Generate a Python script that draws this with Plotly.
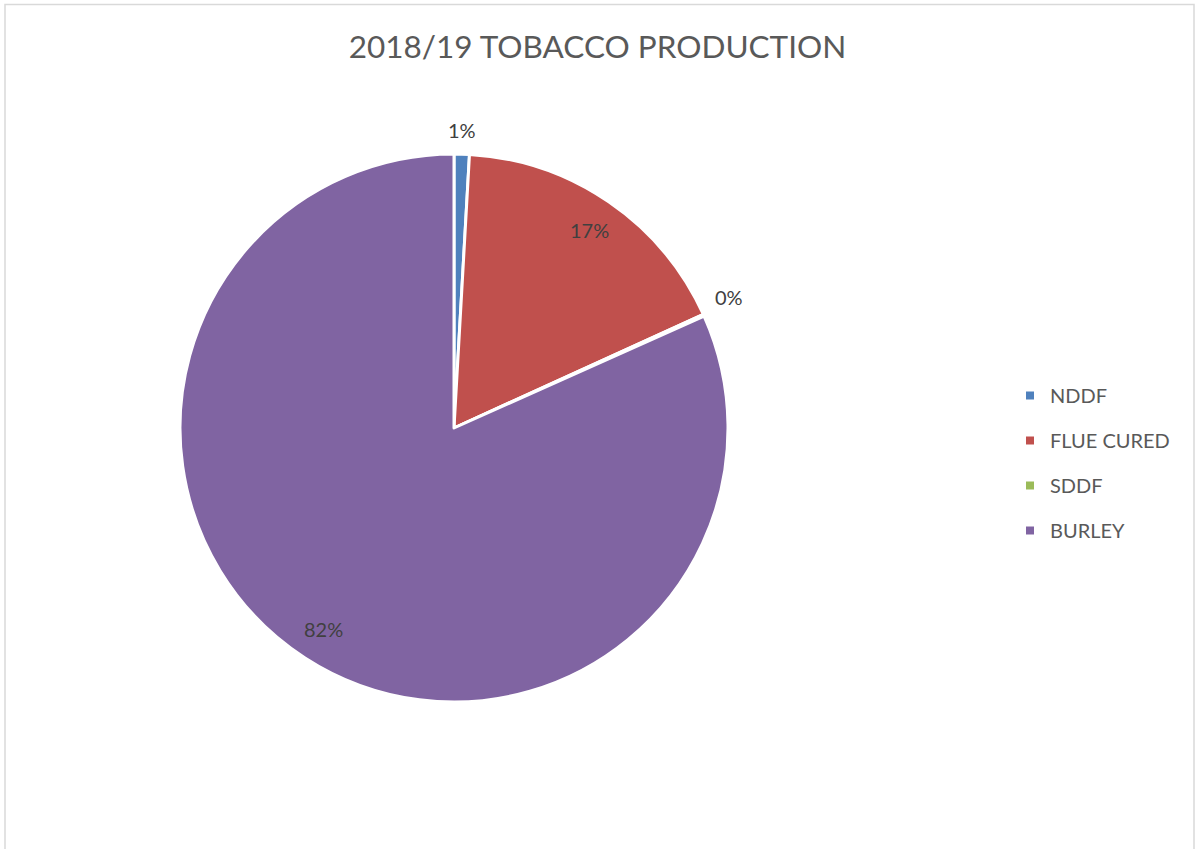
import math
import plotly.graph_objects as go

labels = ["NDDF", "FLUE CURED", "SDDF", "BURLEY"]
values = [0.9, 17.3, 0.1, 81.7]
colors = ["#4F81BD", "#C0504D", "#9BBB59", "#8064A2"]
label_inside = [False, True, False, True]

W, H = 1195, 849
cx, cy, R = 454, 428, 274

FONT = "Lato, 'Open Sans', sans-serif"
GREY = "#595959"
LABEL_GREY = "#404040"

fig = go.Figure()
fig.add_trace(go.Pie(
    labels=labels, values=values, sort=False, direction="clockwise", rotation=0,
    marker=dict(colors=colors, line=dict(color="white", width=3)),
    textinfo="none",
    showlegend=False, hoverinfo="label+percent",
    domain=dict(x=[(cx - R) / W, (cx + R) / W], y=[(H - cy - R) / H, (H - cy + R) / H]),
))

for lab, col in zip(labels, colors):
    fig.add_trace(go.Scatter(
        x=[None], y=[None], mode="markers", name=lab, legendgroup=lab,
        marker=dict(symbol="square", size=8, color=col),
    ))

# data labels placed at each slice's mid-angle (Excel "best fit" style)
total = sum(values)
annotations = []
cum = 0.0
for v, inside in zip(values, label_inside):
    mid = (cum + v / 2) / total * 2 * math.pi
    cum += v
    s, c = math.sin(mid), math.cos(mid)
    if inside:
        r = 0.875 * R
        xa, ya = "center", "middle"
    else:
        r = R + 10
        xa = "left" if s > 0.3 else ("right" if s < -0.3 else "center")
        ya = "bottom" if c > 0.3 else ("top" if c < -0.3 else "middle")
    px, py = cx + r * s, cy - r * c
    annotations.append(dict(
        x=px / W, y=1 - py / H, xref="paper", yref="paper",
        text=f"{round(v / total * 100)}%", showarrow=False,
        xanchor=xa, yanchor=ya,
        font=dict(family=FONT, size=20, color=LABEL_GREY),
    ))

fig.update_layout(
    width=W, height=H,
    margin=dict(l=0, r=0, t=0, b=0),
    paper_bgcolor="white", plot_bgcolor="white",
    xaxis=dict(visible=False), yaxis=dict(visible=False),
    title=dict(text="2018/19 TOBACCO PRODUCTION", x=0.5, xanchor="center",
               y=1 - 47 / H, yanchor="middle",
               font=dict(family=FONT, size=31.5, color=GREY)),
    legend=dict(x=1010 / W, xanchor="left", y=1 - 376 / H, yanchor="top",
                font=dict(family=FONT, size=20, color=GREY),
                tracegroupgap=16, bgcolor="rgba(0,0,0,0)"),
    annotations=annotations,
    shapes=[dict(type="rect", xref="paper", yref="paper",
                 x0=5 / W, x1=1194 / W, y0=-0.05, y1=1 - 4.5 / H,
                 line=dict(color="#D9D9D9", width=1.5), fillcolor="rgba(0,0,0,0)",
                 layer="below")],
)

fig.write_html("out.html")
